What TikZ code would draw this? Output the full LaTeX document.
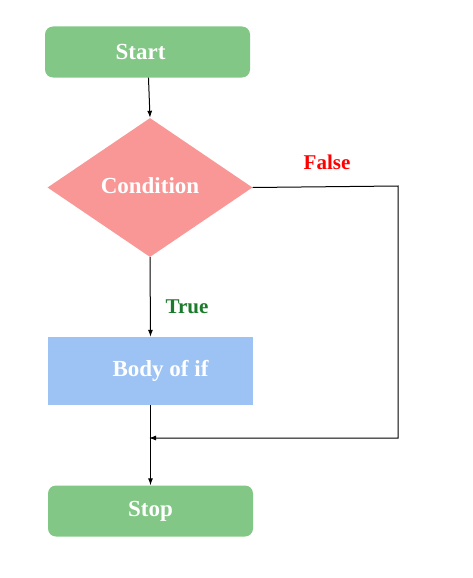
\documentclass[tikz,border=0pt]{standalone}
\usepackage{fontspec}
\setmainfont{Liberation Serif}
\usetikzlibrary{shapes.geometric,arrows.meta}
\definecolor{startgreen}{HTML}{82C785}
\definecolor{condpink}{HTML}{F99797}
\definecolor{bodyblue}{HTML}{9DC3F4}
\definecolor{truegreen}{HTML}{1B7A2B}
\begin{document}
\begin{tikzpicture}[x=1pt,y=-1pt,
  term/.style={draw=none,fill=startgreen,rounded corners=8pt,minimum width=205pt,minimum height=51pt,inner sep=0pt,text=white,font=\fontsize{23}{26}\selectfont\bfseries},
  decision/.style={draw=none,fill=condpink,diamond,minimum width=205pt,minimum height=139pt,inner sep=0pt,aspect=1.47,text=white,font=\fontsize{23}{26}\selectfont\bfseries},
  process/.style={draw=none,fill=bodyblue,minimum width=205pt,minimum height=68pt,inner sep=0pt,text=white,font=\fontsize{23}{26}\selectfont\bfseries},
  conn/.style={draw=black,line width=1pt,-{Latex[length=7pt,width=5pt]}},
  lbl/.style={font=\fontsize{21}{24}\selectfont\bfseries}]
\useasboundingbox (0,0) rectangle (472,578);
\node[term] (start) at (147.5,52) {Start\rule{14pt}{0pt}};
\node[decision] (cond) at (150,187.5) {\raisebox{3pt}{Condition}};
\node[process] (body) at (150.5,371) {\hspace{20pt}Body of if};
\node[term] (stop) at (150.5,511) {Stop};
\coordinate (c1) at (398,186);
\coordinate (c2) at (398,438);
\coordinate (m) at (149,438);
\draw[conn] (start) -- (cond.north);
\draw[conn] (cond.south) -- (body.north);
\draw[conn] (body.south -| stop.north) -- (stop.north);
\draw[conn] (cond.east) -- (c1) -- (c2) -- (m);
\node[lbl,text=red] (f) at (327,162) {False};
\node[lbl,text=truegreen] (t) at (187,307) {True};
\end{tikzpicture}
\end{document}
